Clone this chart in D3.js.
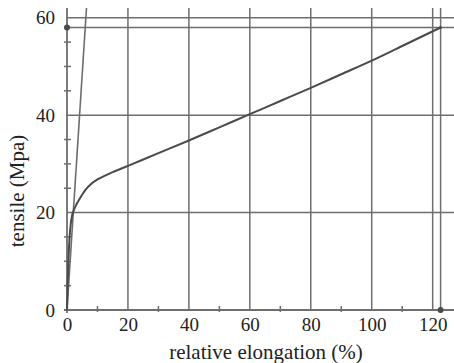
<!DOCTYPE html>
<html>
<head>
<meta charset="utf-8">
<script src="https://cdn.jsdelivr.net/npm/d3@7"></script>
<style>
  html, body { margin: 0; padding: 0; background: #fff; }
  svg { display: block; }
</style>
</head>
<body>
<svg id="chart"></svg>
<script>
// tensile curve (elongation %, stress MPa)
const elongation = [0, 0.2, 0.45, 0.8, 1.2, 1.7, 2.3, 3.2, 4.5, 6, 8, 10, 12.5, 15, 17.5, 20, 30, 40, 50, 60, 70, 80, 90, 100, 110, 122.6]
const tensile = [0, 5, 10, 14.5, 17.5, 19.5, 20.6, 21.8, 23.2, 24.6, 25.9, 26.8, 27.6, 28.3, 28.95, 29.6, 32.2, 34.8, 37.5, 40.2, 42.9, 45.6, 48.4, 51.2, 54.2, 58]

// elastic (modulus) line through origin
const modulusX = [0, 6.6]
const modulusY = [0, 64]

// break point marker
const breakX = 122.6
const breakY = 58

const xTicks = [0, 20, 40, 60, 80, 100, 120]
const yTicks = [0, 20, 40, 60]
const xMinor = [10, 30, 50, 70, 90, 110]
const yMinor = [5, 10, 15, 25, 30, 35, 45, 50, 55]

const W = 454
const H = 363
const gridColor = '#6e6e6e'
const lineColor = '#4a4a4a'
const font = '"Liberation Serif", "Times New Roman", serif'

const x = d3.scaleLinear().domain([0, 127]).range([67, 454])
const y = d3.scaleLinear().domain([0, 62]).range([310, 8])

const svg = d3.select('#chart').attr('width', W).attr('height', H)

// clip for plot lines
svg.append('clipPath').attr('id', 'clip')
  .append('rect')
  .attr('x', x(0)).attr('y', y(62))
  .attr('width', x(127) - x(0)).attr('height', y(0) - y(62))

// background grid
svg.append('g')
  .selectAll('line')
  .data(xTicks.filter((d) => d > 0).concat([breakX]))
  .join('line')
  .attr('x1', (d) => x(d)).attr('x2', (d) => x(d))
  .attr('y1', y(62)).attr('y2', y(0))
  .attr('stroke', gridColor).attr('stroke-width', 1.5)

svg.append('g')
  .selectAll('line')
  .data(yTicks.filter((d) => d > 0).concat([breakY]))
  .join('line')
  .attr('x1', x(0)).attr('x2', x(127))
  .attr('y1', (d) => y(d)).attr('y2', (d) => y(d))
  .attr('stroke', gridColor).attr('stroke-width', 1.5)

// x axis
svg.append('g')
  .attr('transform', `translate(0,${y(0)})`)
  .call(d3.axisBottom(x).tickValues(xTicks).tickSize(0).tickPadding(8))
  .call((g) => g.select('.domain').remove())
  .call((g) => g.selectAll('text').style('font-family', font).style('font-size', '19px').attr('fill', '#222'))

svg.append('line')
  .attr('x1', x(0) - 3).attr('x2', x(127))
  .attr('y1', y(0)).attr('y2', y(0))
  .attr('stroke', gridColor).attr('stroke-width', 1.8)

svg.append('g')
  .selectAll('line')
  .data(xMinor)
  .join('line')
  .attr('x1', (d) => x(d)).attr('x2', (d) => x(d))
  .attr('y1', y(0) - 4).attr('y2', y(0) + 2)
  .attr('stroke', gridColor).attr('stroke-width', 1.5)

// y axis
svg.append('g')
  .attr('transform', `translate(${x(0)},0)`)
  .call(d3.axisLeft(y).tickValues(yTicks).tickSize(0).tickPadding(12))
  .call((g) => g.select('.domain').remove())
  .call((g) => g.selectAll('text').style('font-family', font).style('font-size', '19px').attr('fill', '#222'))

svg.append('line')
  .attr('x1', x(0)).attr('x2', x(0))
  .attr('y1', y(62)).attr('y2', y(0) + 3)
  .attr('stroke', gridColor).attr('stroke-width', 1.8)

svg.append('g')
  .selectAll('line')
  .data(yMinor)
  .join('line')
  .attr('x1', x(0) - 3).attr('x2', x(0) + 4)
  .attr('y1', (d) => y(d)).attr('y2', (d) => y(d))
  .attr('stroke', gridColor).attr('stroke-width', 1.5)

// modulus line
svg.append('path')
  .datum(modulusX.map((d, i) => [d, modulusY[i]]))
  .attr('clip-path', 'url(#clip)')
  .attr('fill', 'none')
  .attr('stroke', gridColor)
  .attr('stroke-width', 1.6)
  .attr('d', d3.line().x((d) => x(d[0])).y((d) => y(d[1])))

// stress-strain curve
const curve = elongation.map((d, i) => [d, tensile[i]])
svg.append('path')
  .datum(curve)
  .attr('fill', 'none')
  .attr('stroke', lineColor)
  .attr('stroke-width', 2)
  .attr('d', d3.line().x((d) => x(d[0])).y((d) => y(d[1])).curve(d3.curveMonotoneX))

// markers
svg.append('g')
  .selectAll('circle')
  .data([[0, breakY], [breakX, 0], [breakX, breakY]])
  .join('circle')
  .attr('cx', (d) => x(d[0])).attr('cy', (d) => y(d[1]))
  .attr('r', (d, i) => (i < 2 ? 3 : 1.5))
  .attr('fill', lineColor)

// axis titles
svg.append('text')
  .attr('x', 266).attr('y', 359)
  .style('text-anchor', 'middle')
  .style('font-family', font)
  .style('font-size', '21px')
  .attr('fill', '#222')
  .text('relative elongation (%)')

svg.append('text')
  .attr('transform', 'rotate(-90)')
  .attr('x', -191).attr('y', 24)
  .style('text-anchor', 'middle')
  .style('font-family', font)
  .style('font-size', '21px')
  .attr('fill', '#222')
  .text('tensile (Mpa)')
</script>
</body>
</html>
